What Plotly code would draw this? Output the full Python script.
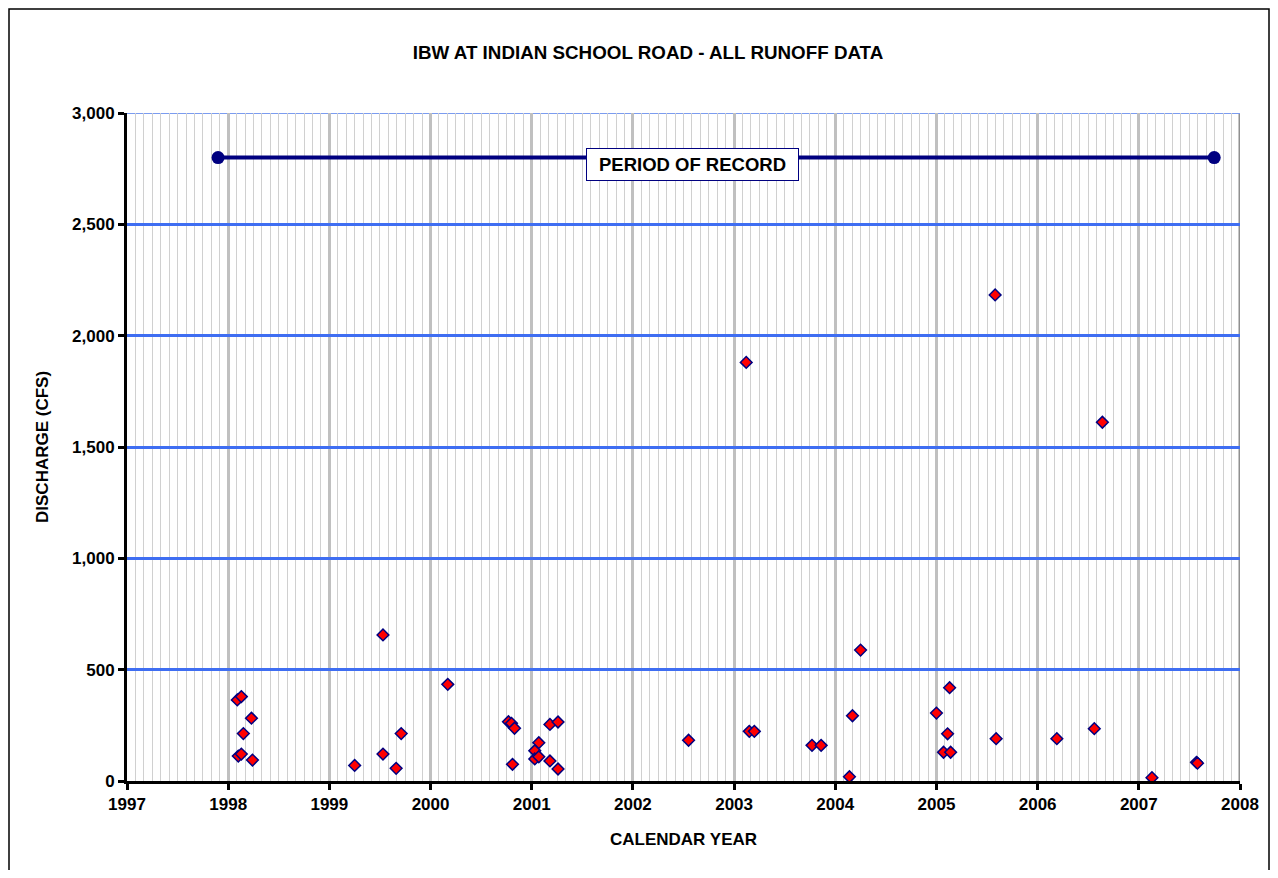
import plotly.graph_objects as go

# Runoff events (decimal calendar year, discharge in cfs)
event_year = [1998.09, 1998.13, 1998.23, 1998.15, 1998.10, 1998.13, 1998.24,
              1999.25, 1999.53, 1999.53, 1999.66, 1999.71, 2000.17,
              2000.77, 2000.80, 2000.83, 2000.81, 2001.07, 2001.03, 2001.03, 2001.07,
              2001.18, 2001.26, 2001.18, 2001.26, 2002.55, 2003.12, 2003.15, 2003.20,
              2003.77, 2003.86, 2004.14, 2004.25, 2004.17, 2005.00, 2005.13, 2005.11,
              2005.07, 2005.14, 2005.58, 2005.59, 2006.19, 2006.56, 2006.64, 2007.13,
              2007.57, 2007.58]
event_cfs = [364, 379, 282, 213, 112, 121, 94,
             70, 656, 121, 57, 213, 434,
             266, 259, 237, 75, 172, 136, 99, 109,
             254, 265, 90, 54, 183, 1880, 223, 223,
             160, 160, 19, 588, 293, 305, 419, 212,
             129, 129, 2183, 190, 190, 235, 1611, 15,
             84, 80]

record_year = [1997.90, 2007.745]
record_cfs = [2800, 2800]
record_label = "PERIOD OF RECORD"

year_ticks = list(range(1997, 2009))
cfs_ticks = [0, 500, 1000, 1500, 2000, 2500, 3000]

FONT = "Liberation Sans, Arial, sans-serif"
NAVY = "#000080"
W, H = 1262, 862

fig = go.Figure()
fig.add_trace(go.Scatter(
    x=record_year, y=record_cfs, mode="lines+markers",
    line=dict(color=NAVY, width=4),
    marker=dict(color=NAVY, size=13, symbol="circle"),
    hoverinfo="skip", showlegend=False))
fig.add_trace(go.Scatter(
    x=event_year, y=event_cfs, mode="markers",
    marker=dict(symbol="diamond", size=9, color="#ff0000",
                line=dict(color=NAVY, width=1.5)),
    showlegend=False))

fig.add_annotation(x=2002.59, y=2769, xref="x", yref="y", text="<b>%s</b>" % record_label,
                   showarrow=False, font=dict(family=FONT, size=18.5, color="black"),
                   bgcolor="white", bordercolor=NAVY, borderwidth=1, borderpad=2,
                   width=207, height=27)

# axis titles
fig.add_annotation(x=-0.0764, y=0.5, xref="paper", yref="paper", text="<b>DISCHARGE (CFS)</b>",
                   textangle=-90, showarrow=False, font=dict(family=FONT, size=17, color="black"),
                   xanchor="center", yanchor="middle")
fig.add_annotation(x=0.5, y=-0.0883, xref="paper", yref="paper", text="<b>CALENDAR YEAR</b>",
                   showarrow=False, font=dict(family=FONT, size=17, color="black"),
                   xanchor="center", yanchor="middle")

# right plot border, top line and outer frame (open at the bottom)
fig.add_shape(type="line", xref="x", yref="paper", x0=2008, x1=2008, y0=0, y1=1,
              line=dict(color="#909090", width=3), layer="below")
fig.add_shape(type="line", xref="paper", yref="y", x0=0, x1=1, y0=3000, y1=3000,
              line=dict(color="#7b9cf0", width=2), layer="below")
xl, xr = -118/1113, 1142/1113
yt, yb = 772/668, -0.3
fig.add_shape(type="path", xref="paper", yref="paper",
              path=f"M {xl} {yb} L {xl} {yt} L {xr} {yt} L {xr} {yb}",
              line=dict(color="black", width=1.5))

fig.update_layout(
    width=W, height=H,
    margin=dict(l=119, r=30, t=105, b=89),
    paper_bgcolor="white", plot_bgcolor="white",
    title=dict(text="<b>IBW AT INDIAN SCHOOL ROAD - ALL RUNOFF DATA</b>",
               x=640/W, xref="container", xanchor="center",
               y=1-44/H, yref="container", yanchor="middle",
               font=dict(family=FONT, size=18.8, color="black")),
    font=dict(family=FONT, color="black"),
)
fig.update_xaxes(
    range=[1997, 2008], tickvals=year_ticks, ticktext=["<b>%d</b>" % y for y in year_ticks],
    tickfont=dict(family=FONT, size=17, color="black"),
    showline=True, linecolor="black", linewidth=3,
    ticks="outside", ticklen=6, tickwidth=3, tickcolor="black",
    showgrid=True, gridcolor="#c0c0c0", gridwidth=3, zeroline=False,
    minor=dict(dtick=1/12, tick0=1997, showgrid=True, gridcolor="#d0d0d0", gridwidth=1, ticks=""),
)
fig.update_yaxes(
    range=[0, 3000], tickvals=cfs_ticks, ticktext=["<b>{:,}</b>".format(v) for v in cfs_ticks],
    tickfont=dict(family=FONT, size=17, color="black"),
    showline=True, linecolor="black", linewidth=3,
    ticks="outside", ticklen=6, tickwidth=3, tickcolor="black",
    showgrid=True, gridcolor="#3f6ef2", gridwidth=3, zeroline=False,
)

fig.write_html("out.html")
